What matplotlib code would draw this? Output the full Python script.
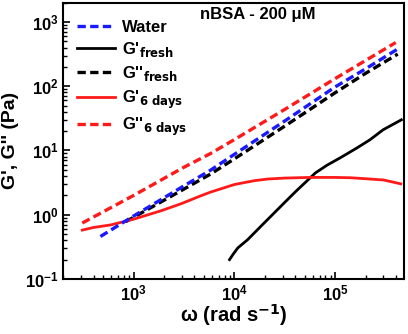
import numpy as np
import matplotlib
matplotlib.use('Agg')
import matplotlib.pyplot as plt

plt.rcParams['font.family'] = ['Liberation Sans', 'DejaVu Sans']
plt.rcParams['font.weight'] = 'bold'
plt.rcParams['mathtext.default'] = 'bf'

# valores (log10 de omega e de G)
water_lx = [2.67, 3.0, 3.5, 3.76, 4.0, 4.5, 5.0, 5.3, 5.62]
water_ly = [-0.34, -0.02, 0.45, 0.69, 0.94, 1.46, 1.99, 2.27, 2.58]

gp_fresh_lx = [3.951, 3.984, 4.033, 4.131, 4.262, 4.377, 4.492, 4.607, 4.722,
               4.803, 4.918, 5.049, 5.213, 5.344, 5.475, 5.656]
gp_fresh_ly = [-0.70, -0.622, -0.518, -0.389, -0.181, 0.0, 0.181, 0.36, 0.53,
               0.65, 0.77, 0.885, 1.037, 1.166, 1.322, 1.477]

gpp_fresh_lx = [2.92, 3.0, 3.5, 3.76, 4.0, 4.5, 5.0, 5.3, 5.62]
gpp_fresh_ly = [-0.11, -0.04, 0.40, 0.63, 0.87, 1.38, 1.90, 2.20, 2.50]

gp_6d_lx = [2.49, 2.6, 2.77, 2.9, 3.0, 3.27, 3.47, 3.66, 3.76, 4.0, 4.2, 4.33,
            4.5, 4.75, 5.0, 5.15, 5.3, 5.48, 5.65]
gp_6d_ly = [-0.24, -0.20, -0.16, -0.11, -0.07, 0.06, 0.17, 0.29, 0.35, 0.47,
            0.53, 0.555, 0.57, 0.58, 0.58, 0.575, 0.56, 0.54, 0.48]

gpp_6d_lx = [2.49, 3.0, 3.5, 3.76, 4.0, 4.5, 5.0, 5.3, 5.6]
gpp_6d_ly = [-0.13, 0.30, 0.74, 0.95, 1.17, 1.64, 2.12, 2.40, 2.68]

fig = plt.figure(figsize=(4.08, 3.34), dpi=100)
ax = fig.add_axes([0.155, 0.165, 0.835, 0.827])

def p(lx, ly):
    return 10 ** np.array(lx), 10 ** np.array(ly)

ds = (2.5, 1.3)
ax.plot(*p(water_lx, water_ly), '--', color='#1a1aff', lw=2.4, dashes=ds, label='Water', zorder=5)
ax.plot(*p(gp_fresh_lx, gp_fresh_ly), '-', color='black', lw=2.0, label="G'$_{fresh}$")
ax.plot(*p(gpp_fresh_lx, gpp_fresh_ly), '--', color='black', lw=2.4, dashes=ds, label="G''$_{fresh}$")
ax.plot(*p(gp_6d_lx, gp_6d_ly), '-', color='#ff1a1a', lw=2.0, label="G'$_{6\\ days}$")
ax.plot(*p(gpp_6d_lx, gpp_6d_ly), '--', color='#ff1a1a', lw=2.4, dashes=ds, label="G''$_{6\\ days}$")

ax.set_xscale('log')
ax.set_yscale('log')
ax.set_xlim(200, 480000)
ax.set_ylim(0.1, 2000)
ax.set_xticks([1e3, 1e4, 1e5])
ax.set_yticks([1e-1, 1e0, 1e1, 1e2, 1e3])
ax.tick_params(which='both', direction='in', top=False, right=False, labelsize=12)
ax.tick_params(which='major', length=5, width=1.2)
ax.tick_params(which='minor', length=3, width=1.0)
for s in ax.spines.values():
    s.set_linewidth(1.5)

ax.set_xlabel('ω (rad s$^{-1}$)', fontsize=14.5, fontweight='bold')
ax.xaxis.set_label_coords(0.5, -0.085)
ax.set_ylabel("G', G'' (Pa)", fontsize=14, fontweight='bold')
ax.text(0.57, 0.985, 'nBSA - 200 μM', transform=ax.transAxes, ha='center', va='top',
        fontsize=12, fontweight='bold')

ax.legend(loc='upper left', frameon=False, fontsize=12, handlelength=2.3,
          handletextpad=0.4, labelspacing=0.32, borderaxespad=0.2,
          bbox_to_anchor=(0.01, 0.975))

fig.savefig('out.png', dpi=100)
